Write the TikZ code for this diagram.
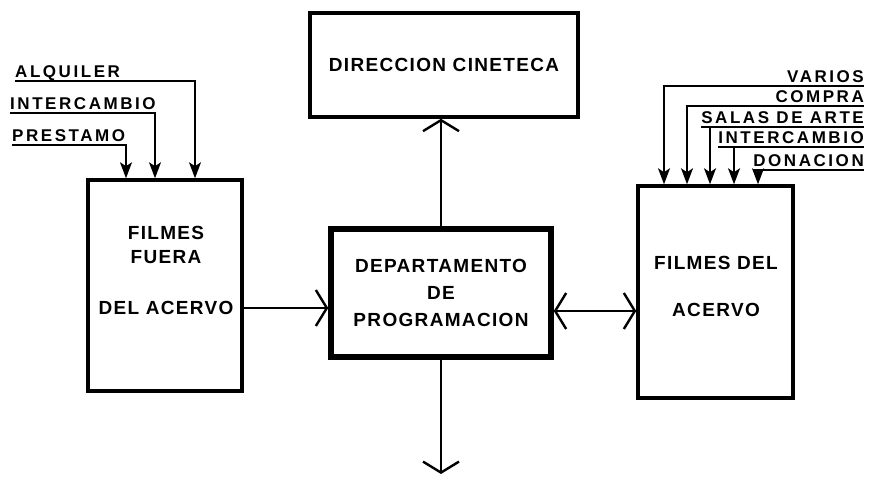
\documentclass[tikz,border=0pt]{standalone}
\usepackage{fontspec}
\usetikzlibrary{arrows.meta}
\newfontfamily\boxfont{Liberation Sans}[LetterSpace=7]
\newfontfamily\lblfont{Liberation Sans}[LetterSpace=15]

\begin{document}
\begin{tikzpicture}[x=1pt,y=-1pt]
                \tikzstyle{box}=[rectangle, draw, line width=3.5pt, inner sep=0pt, align=center, font=\boxfont\bfseries\fontsize{19}{27}\selectfont]
                \tikzstyle{lbl}=[inner xsep=0pt, inner ysep=3.5pt, text depth=0pt, font=\lblfont\bfseries\fontsize{17}{20}\selectfont]
                \tikzstyle{main}=[line width=1.6pt, >={Straight Barb[length=11pt,width=36pt,line width=2.4pt]}]
                \tikzstyle{feed}=[line width=1.8pt, -{Stealth[length=16pt,width=12pt,inset=4pt]}]
                \useasboundingbox (0,0) rectangle (869,476);

                \node[box, minimum width=268, minimum height=104] (dir) at (444,65) {DIRECCION CINETECA};
                \node[box, line width=5.5pt, minimum width=220, minimum height=128] (dep) at (441,293) {DEPARTAMENTO\\DE\\PROGRAMACION};
                \node[box, minimum width=154, minimum height=211] (fuera) at (165,285.5) {};
                \node[font=\boxfont\bfseries\fontsize{19}{27}\selectfont, align=center] (fueratxt) at (166,270) {FILMES\\[-3pt]FUERA\\[24pt]DEL ACERVO};
                \node[box, minimum width=155, minimum height=212] (acervo) at (715.5,292) {};
                \node[font=\boxfont\bfseries\fontsize{19}{27}\selectfont, align=center] (acervotxt) at (716,286) {FILMES DEL\\[20pt]ACERVO};

                \node[lbl, anchor=south west] (alq) at (15,81) {ALQUILER};
                \node[lbl, anchor=south west] (intl) at (10,113) {INTERCAMBIO};
                \node[lbl, anchor=south west] (pres) at (12,145) {PRESTAMO};

                \node[lbl, anchor=south east] (var) at (864,86) {VARIOS};
                \node[lbl, anchor=south east] (comp) at (864,106) {COMPRA};
                \node[lbl, anchor=south east] (sal) at (864,127) {SALAS DE ARTE};
                \node[lbl, anchor=south east] (intr) at (864,147) {INTERCAMBIO};
                \node[lbl, anchor=south east] (don) at (864,170) {DONACION};

                \coordinate (c1) at ([xshift=30]fuera.north);
                \coordinate (c2) at ([xshift=-10]fuera.north);
                \coordinate (c3) at ([xshift=-39]fuera.north);
                \coordinate (r1) at ([xshift=-51.5]acervo.north);
                \coordinate (r2) at ([xshift=-28.5]acervo.north);
                \coordinate (r3) at ([xshift=-5.5]acervo.north);
                \coordinate (r4) at ([xshift=18.5]acervo.north);
                \coordinate (r5) at ([xshift=42.5]acervo.north);

                \draw[feed] (alq.south west) -| (c1);
                \draw[feed] (intl.south west) -| (c2);
                \draw[feed] (pres.south west) -| (c3);

                \draw[feed] (var.south east) -| (r1);
                \draw[feed] (comp.south east) -| (r2);
                \draw[feed] (sal.south east) -- (sal.south west) (sal.south -| r3) -- (r3);
                \draw[feed] (intr.south east) -- (intr.south west) (intr.south -| r4) -- (r4);
                \draw[feed] (don.south east) -- (don.south west) (don.south -| r5) -- (r5);

                \coordinate (f1) at ([yshift=-22.5pt]fuera.east);
                \coordinate (d1) at ([yshift=-18pt]dep.east);
                \coordinate (out) at (441,474);

                \draw[main, ->] (dep.north) -- (dep.north |- dir.south);
                \draw[main, ->] (dep.south) -- (out);
                \draw[main, ->] (f1) -- (f1 -| dep.west);
                \draw[main, <->] (d1) -- (d1 -| acervo.west);
            \end{tikzpicture}
\end{document}
